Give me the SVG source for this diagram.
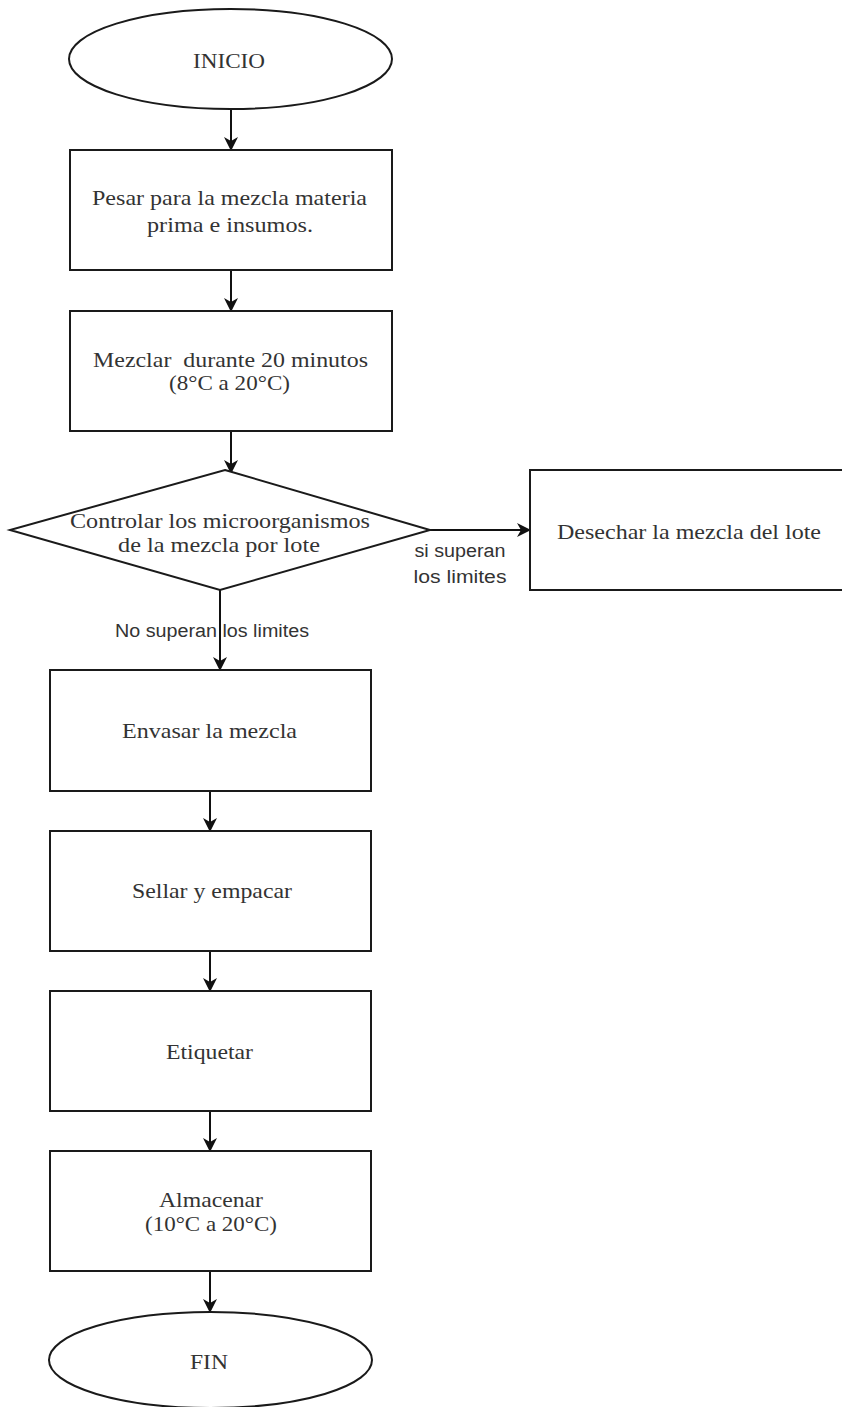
<svg xmlns="http://www.w3.org/2000/svg" width="842" height="1407" viewBox="0 0 842 1407">
  <style>
    .shape { fill: #ffffff; stroke: #1a1a1a; stroke-width: 2; }
    .edge { fill: none; stroke: #111111; stroke-width: 2; }
    .lbl { font-family: "Liberation Serif", "Times New Roman", serif; font-size: 22px; fill: #333333; text-anchor: middle; }
    .elbl { font-family: "Liberation Sans", Arial, sans-serif; font-size: 18px; fill: #333333; text-anchor: middle; }
  </style>
  <defs>
    <marker id="arrow" markerUnits="userSpaceOnUse" markerWidth="16" markerHeight="14" refX="13" refY="7" orient="auto">
      <path d="M0,0 L14,7 L0,14 L4,7 Z" fill="#111111"/>
    </marker>
  </defs>
  <rect width="842" height="1407" fill="#ffffff"/>

  <!-- connectors -->
  <g id="edges">
    <line class="edge" x1="231" y1="109" x2="231" y2="150" marker-end="url(#arrow)"/>
    <line class="edge" x1="231" y1="270" x2="231" y2="311" marker-end="url(#arrow)"/>
    <line class="edge" x1="231" y1="431" x2="231" y2="473" marker-end="url(#arrow)"/>
    <line class="edge" x1="430" y1="530" x2="530" y2="530" marker-end="url(#arrow)"/>
    <text class="elbl" x="460" y="557" textLength="91" lengthAdjust="spacingAndGlyphs">si superan</text>
    <text class="elbl" x="460" y="583" textLength="93" lengthAdjust="spacingAndGlyphs">los limites</text>
    <line class="edge" x1="220" y1="590" x2="220" y2="670" marker-end="url(#arrow)"/>
    <text class="elbl" x="212" y="637" textLength="194" lengthAdjust="spacingAndGlyphs">No superan los limites</text>
    <line class="edge" x1="210" y1="791" x2="210" y2="831" marker-end="url(#arrow)"/>
    <line class="edge" x1="210" y1="951" x2="210" y2="991" marker-end="url(#arrow)"/>
    <line class="edge" x1="210" y1="1111" x2="210" y2="1151" marker-end="url(#arrow)"/>
    <line class="edge" x1="210" y1="1271" x2="210" y2="1312" marker-end="url(#arrow)"/>
  </g>

  <!-- start -->
  <g id="inicio">
    <ellipse class="shape" cx="230.5" cy="59" rx="161.5" ry="50"/>
    <text class="lbl" x="229" y="68" textLength="72" lengthAdjust="spacingAndGlyphs">INICIO</text>
  </g>

  <g id="pesar">
    <rect class="shape" x="70" y="150" width="322" height="120"/>
    <text class="lbl" x="229.5" y="205" textLength="275" lengthAdjust="spacingAndGlyphs">Pesar para la mezcla materia</text>
    <text class="lbl" x="230" y="232" textLength="166" lengthAdjust="spacingAndGlyphs">prima e insumos.</text>
  </g>

  <g id="mezclar">
    <rect class="shape" x="70" y="311" width="322" height="120"/>
    <text class="lbl" x="230.5" y="367" xml:space="preserve" textLength="275" lengthAdjust="spacingAndGlyphs">Mezclar  durante 20 minutos</text>
    <text class="lbl" x="229.5" y="390" textLength="121" lengthAdjust="spacingAndGlyphs">(8°C a 20°C)</text>
  </g>

  <g id="controlar">
    <polygon class="shape" points="225,470 430,530 220,590 10,530"/>
    <text class="lbl" x="220" y="528" textLength="300" lengthAdjust="spacingAndGlyphs">Controlar los microorganismos</text>
    <text class="lbl" x="219" y="552" textLength="202" lengthAdjust="spacingAndGlyphs">de la mezcla por lote</text>
  </g>

  <g id="desechar">
    <rect class="shape" x="530" y="470" width="322" height="120"/>
    <text class="lbl" x="689" y="539" textLength="264" lengthAdjust="spacingAndGlyphs">Desechar la mezcla del lote</text>
  </g>

  <g id="envasar">
    <rect class="shape" x="50" y="670" width="321" height="121"/>
    <text class="lbl" x="209.5" y="738" textLength="175" lengthAdjust="spacingAndGlyphs">Envasar la mezcla</text>
  </g>

  <g id="sellar">
    <rect class="shape" x="50" y="831" width="321" height="120"/>
    <text class="lbl" x="212" y="898" textLength="160" lengthAdjust="spacingAndGlyphs">Sellar y empacar</text>
  </g>

  <g id="etiquetar">
    <rect class="shape" x="50" y="991" width="321" height="120"/>
    <text class="lbl" x="209.5" y="1059" textLength="87" lengthAdjust="spacingAndGlyphs">Etiquetar</text>
  </g>

  <g id="almacenar">
    <rect class="shape" x="50" y="1151" width="321" height="120"/>
    <text class="lbl" x="211" y="1207" textLength="104" lengthAdjust="spacingAndGlyphs">Almacenar</text>
    <text class="lbl" x="211" y="1231" textLength="132" lengthAdjust="spacingAndGlyphs">(10°C a 20°C)</text>
  </g>

  <!-- end -->
  <g id="fin">
    <ellipse class="shape" cx="210.5" cy="1360" rx="161.5" ry="48"/>
    <text class="lbl" x="209" y="1369" textLength="38" lengthAdjust="spacingAndGlyphs">FIN</text>
  </g>
</svg>
